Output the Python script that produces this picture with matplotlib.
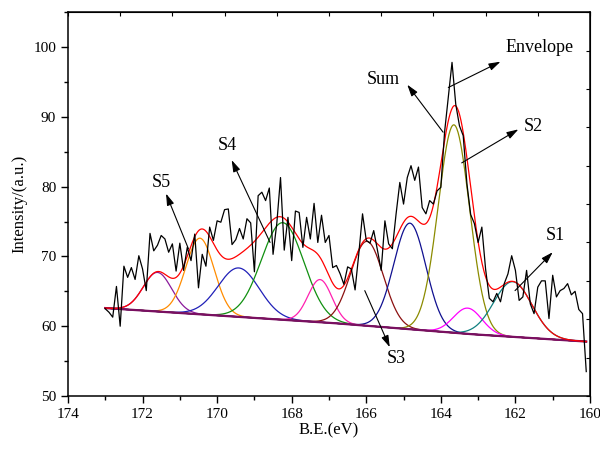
import numpy as np
import matplotlib
matplotlib.use('Agg')
import matplotlib.pyplot as plt
from matplotlib.ticker import MultipleLocator, FixedLocator

plt.rcParams['font.family'] = ['Liberation Serif', 'DejaVu Serif']

# raw spectrum, 0.1 eV steps from 173.0 down to 160.1
be_start, be_step = 173.0, 0.1
counts = [
    62.5, 62.0, 61.3, 65.7, 60.0, 68.6, 67.0, 68.4, 66.7, 70.1,
    68.2, 65.1, 73.3, 70.8, 71.6, 73.0, 72.5, 70.6, 71.8, 67.9,
    71.9,
    68.0, 71.3, 69.4, 73.2, 65.5, 70.3, 68.6, 74.2, 72.3, 75.1,
    74.9, 76.7, 76.8, 71.7, 72.4, 74.0, 72.5, 75.4, 74.8, 67.8,
    78.7, 79.2, 78.0, 79.8, 70.3, 74.7, 81.3, 70.9, 75.6, 69.4,
    76.5, 76.3, 71.3, 75.6, 72.5, 77.6, 72.0, 75.9, 72.0, 73.0,
    68.4, 68.7,
    67.5, 66.0, 68.5, 68.2,
    65.2, 70.4, 76.1, 72.3, 71.9, 73.7, 70.9, 68.0, 75.1, 71.8,
    71.1, 76.1, 80.6, 77.5, 81.3, 83.0, 80.9, 82.8, 77.0, 76.1,
    78.0, 77.5, 79.4, 79.9, 87.8, 92.8, 97.8, 91.8, 88.7, 87.3,
    80.4, 76.0, 74.7, 72.0, 74.2, 68.2, 64.0, 63.5, 64.7, 63.5,
    66.1, 67.5, 70.1, 68.0, 63.7, 64.2, 68.0, 63.2, 61.8, 65.6,
    66.5, 66.5, 61.1, 67.3, 64.2, 65.1, 65.4, 66.1, 64.5, 65.0,
    62.4, 61.8, 53.5,
]

# background (Shirley-like, read at a few points)
bg_x = [173.0, 167.0, 163.3, 160.1]
bg_y = [62.6, 60.5, 58.9, 57.8]

# fitted peaks: centre (eV), height above background, sigma (eV)
centers = [171.60, 170.46, 169.42, 168.24, 167.24, 165.98, 164.83, 163.65, 163.28, 162.07]
heights = [5.6, 10.9, 7.0, 13.9, 6.1, 12.1, 15.2, 29.8, 3.7, 7.9]
sigmas = [0.38, 0.38, 0.55, 0.57, 0.32, 0.44, 0.43, 0.42, 0.38, 0.51]
colors = ['#8B1A9B', '#FF8C00', '#2020B8', '#109010', '#FF20B0',
          '#8B1010', '#101090', '#8B8B00', '#FF00FF', '#108080']

x_raw = be_start - be_step * np.arange(len(counts))
x = np.linspace(173.0, 160.1, 800)
bg = np.interp(x, bg_x[::-1], bg_y[::-1])

fig = plt.figure(figsize=(6, 4.49), dpi=100)
ax = fig.add_axes([0.1133, 0.118, 0.87, 0.855])

envelope = bg.copy()
for c, h, s, col in zip(centers, heights, sigmas, colors):
    g = h * np.exp(-(x - c) ** 2 / (2 * s ** 2))
    envelope += g
    ax.plot(x, bg + g, color=col, lw=0.9)
ax.plot(x, bg, color='#7A1060', lw=1.6)
ax.plot(x, envelope, color='red', lw=0.9)
ax.plot(x_raw, counts, color='black', lw=0.9)

ax.set_xlim(174, 160)
ax.set_ylim(50, 105)
ax.xaxis.set_major_locator(MultipleLocator(2))
ax.xaxis.set_minor_locator(MultipleLocator(1))
ax.yaxis.set_major_locator(FixedLocator([50, 60, 70, 80, 90, 100]))
ax.yaxis.set_minor_locator(FixedLocator([55, 65, 75, 85, 95, 105]))
ax.tick_params(which='both', direction='out', top=False, right=False, labelsize=11, width=1)
ax.tick_params(which='major', length=5)
ax.tick_params(which='minor', length=3)
for sp in ax.spines.values():
    sp.set_linewidth(1.1)

top = ax.secondary_xaxis('top')
top.set_xticks(np.linspace(174, 160, 11))
top.tick_params(direction='in', length=3, labeltop=False, width=0.8)
right = ax.secondary_yaxis('right')
right.set_yticks(np.linspace(50, 105, 11))
right.tick_params(direction='in', length=3, labelright=False, width=0.8)

ax.set_xlabel('B.E.(eV)', fontsize=12, labelpad=1)
ax.set_ylabel('Intensity/(a.u.)', fontsize=12, labelpad=4)

arrow = dict(arrowstyle='-|>,head_length=0.7,head_width=0.22', color='black', lw=0.8,
             shrinkA=0, shrinkB=0)
notes = [
    ('Envelope', (161.34, 99.9), (162.40, 97.9), (163.80, 94.2)),
    ('Sum', (165.55, 95.4), (164.90, 94.6), (163.94, 87.8)),
    ('S2', (161.53, 88.6), (161.92, 88.2), (163.44, 83.4)),
    ('S1', (160.94, 73.0), (161.00, 70.6), (162.01, 65.1)),
    ('S3', (165.19, 55.4), (165.37, 57.0), (166.04, 65.1)),
    ('S4', (169.73, 85.9), (169.61, 83.8), (168.58, 72.0)),
    ('S5', (171.51, 80.6), (171.37, 79.0), (170.77, 71.1)),
]
for label, txt, head, tail in notes:
    ax.annotate('', xy=head, xytext=tail, arrowprops=arrow)
    ax.text(txt[0], txt[1], label, fontsize=13, ha='center', va='center')

fig.savefig('out.png', dpi=100)
